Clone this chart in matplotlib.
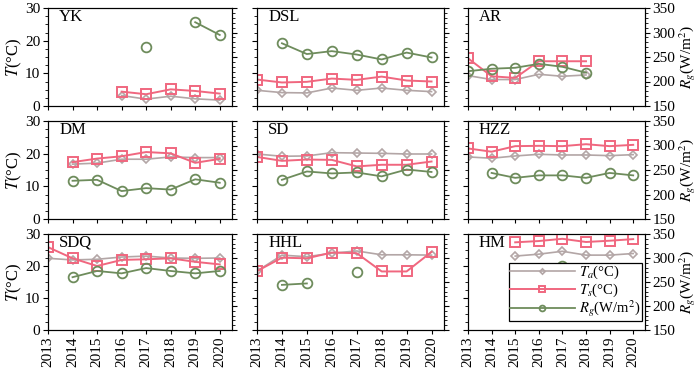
import numpy as np
import matplotlib
matplotlib.use("Agg")
import matplotlib.pyplot as plt
from matplotlib.ticker import MultipleLocator

plt.rcParams['font.family'] = ['Liberation Serif', 'DejaVu Serif']
plt.rcParams['mathtext.fontset'] = 'stix'

nan = np.nan
years = [2013, 2014, 2015, 2016, 2017, 2018, 2019, 2020]
stations = ["YK", "DSL", "AR", "DM", "SD", "HZZ", "SDQ", "HHL", "HM"]

ta_YK = [nan, nan, nan, 3.2, 2.1, 3.0, 2.2, 1.8]
ts_YK = [nan, nan, nan, 4.4, 3.6, 5.1, 4.6, 3.8]
rg_YK = [nan, nan, nan, nan, 270, nan, 321, 295]

ta_DSL = [4.8, 4.1, 4.0, 5.5, 4.8, 5.5, 4.8, 4.4]
ts_DSL = [8.1, 7.2, 7.4, 8.4, 8.0, 9.0, 7.8, 7.5]
rg_DSL = [nan, 278, 256, 262, 255, 245, 259, 249]

ta_AR = [9.3, 8.1, 8.1, 9.7, 9.1, 9.5, nan, nan]
ts_AR = [14.6, 9.1, 8.6, 13.7, 13.7, 13.7, nan, nan]
rg_AR = [221, 226, 228, 236, 230, 218, nan, nan]

ta_DM = [nan, 16.8, 17.1, 18.3, 18.3, 19.0, 18.8, 18.8]
ts_DM = [nan, 17.4, 18.5, 19.2, 20.5, 20.1, 17.2, 18.4]
rg_DM = [nan, 228, 230, 207, 213, 210, 231, 224]

ta_SD = [19.9, 19.2, 19.3, 20.3, 20.2, 20.1, 19.9, 19.9]
ts_SD = [19.0, 17.8, 18.2, 18.1, 16.1, 16.6, 16.6, 17.6]
rg_SD = [nan, 230, 247, 243, 245, 237, 251, 246]

ta_HZZ = [19.0, 18.6, 19.3, 19.8, 19.6, 19.6, 19.4, 19.7]
ts_HZZ = [21.6, 20.6, 22.3, 22.4, 22.3, 22.9, 22.3, 22.7]
rg_HZZ = [nan, 244, 234, 239, 239, 234, 244, 239]

ta_SDQ = [22.4, 21.9, 22.1, 22.8, 23.1, 22.5, 22.4, 22.5]
ts_SDQ = [25.9, 22.4, 20.0, 21.9, 22.1, 22.4, 21.3, 20.5]
rg_SDQ = [nan, 260, 273, 268, 279, 273, 268, 273]

ta_HHL = [18.4, 23.4, 22.9, 24.0, 24.7, 23.5, 23.5, 23.4]
ts_HHL = [18.4, 22.6, 22.4, 24.2, 24.0, 18.3, 18.3, 24.4]
rg_HHL = [nan, 244, 247, nan, 271, nan, nan, nan]

ta_HM = [nan, nan, 23.1, 23.7, 24.6, 23.4, 23.4, 23.9]
ts_HM = [nan, nan, 27.4, 27.8, 28.5, 27.5, 27.9, 28.4]
rg_HM = [nan, nan, 277, 269, 283, 269, 271, 276]

TA = [ta_YK, ta_DSL, ta_AR, ta_DM, ta_SD, ta_HZZ, ta_SDQ, ta_HHL, ta_HM]
TS = [ts_YK, ts_DSL, ts_AR, ts_DM, ts_SD, ts_HZZ, ts_SDQ, ts_HHL, ts_HM]
RG = [rg_YK, rg_DSL, rg_AR, rg_DM, rg_SD, rg_HZZ, rg_SDQ, rg_HHL, rg_HM]

c_ta = "#B3A6A6"
c_ts = "#F0677F"
c_rg = "#6E8C5C"

W, H = 700, 369
fig = plt.figure(figsize=(7.0, 3.69), dpi=100)

cols = [(48, 232), (257, 444), (468, 645)]
rows = [(8, 106), (121, 219), (234, 330)]

for i, st in enumerate(stations):
    r, c = divmod(i, 3)
    x0, x1 = cols[c]
    y0, y1 = rows[r]
    ax = fig.add_axes([x0 / W, 1 - y1 / H, (x1 - x0) / W, (y1 - y0) / H])
    ax2 = ax.twinx()

    l1, = ax.plot(years, TA[i], color=c_ta, marker="D", ms=4.5, mfc="none",
                  mew=1.2, lw=1.2, label=r"$T_a$(°C)")
    l2, = ax.plot(years, TS[i], color=c_ts, marker="s", ms=7, mfc="none",
                  mew=1.4, lw=1.4, label=r"$T_s$(°C)")
    l3, = ax2.plot(years, RG[i], color=c_rg, marker="o", ms=7, mfc="none",
                   mew=1.3, lw=1.3, label=r"$R_g$(W/m$^2$)")

    ax.set_xlim(2013, 2020.5)
    ax.set_ylim(0, 30)
    ax2.set_ylim(150, 350)
    ax.set_xticks(years)
    ax.yaxis.set_major_locator(MultipleLocator(10))
    ax.yaxis.set_minor_locator(MultipleLocator(2.5))
    ax2.yaxis.set_major_locator(MultipleLocator(50))
    ax2.yaxis.set_minor_locator(MultipleLocator(10))

    ax.tick_params(axis="both", which="both", direction="out", labelsize=11, pad=2)
    ax.tick_params(axis="y", which="major", length=3.5, width=0.8)
    ax.tick_params(axis="y", which="minor", length=2.2, width=0.6)
    ax.tick_params(axis="x", which="major", length=3, width=0.8, pad=1.5)
    ax2.tick_params(axis="y", which="major", direction="out", length=3.5, width=0.8,
                    labelsize=11, pad=2)
    ax2.tick_params(axis="y", which="minor", direction="out", length=2.2, width=0.6)

    if r == 2:
        ax.set_xticklabels([str(y) for y in years], rotation=90)
    else:
        ax.set_xticklabels([])
    if c == 0:
        ax.set_ylabel(r"$T$(°C)", fontsize=12, labelpad=1)
    else:
        ax.set_yticklabels([])
    if c == 2:
        ax2.set_ylabel(r"$R_g$(W/m$^2$)", fontsize=11, labelpad=1)
    else:
        ax2.set_yticklabels([])

    for a in (ax, ax2):
        for s in a.spines.values():
            s.set_linewidth(0.8)

    ax.text(0.06, 0.99, st, transform=ax.transAxes, ha="left", va="top", fontsize=12)

    if st == "HM":
        leg = ax.legend(handles=[l1, l2, l3], loc="lower right",
                        bbox_to_anchor=(0.99, 0.08), fontsize=10.5,
                        frameon=True, fancybox=False, edgecolor="black",
                        framealpha=1, markerscale=0.6, handlelength=4.4,
                        borderpad=0.1, labelspacing=0.0, handletextpad=0.3,
                        borderaxespad=0.1)
        leg.get_frame().set_linewidth(0.9)
        ax.set_zorder(ax2.get_zorder() + 1)
        ax.patch.set_visible(False)

fig.savefig("out.png", dpi=100)
